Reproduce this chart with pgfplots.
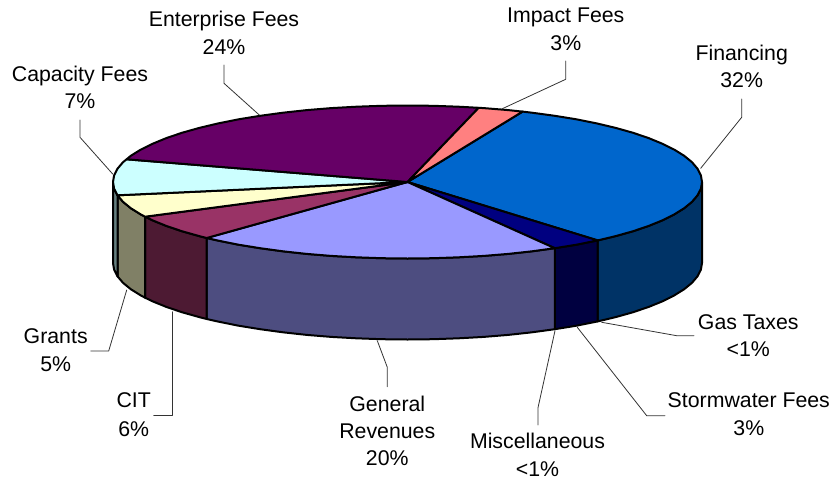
\documentclass[border=0pt]{standalone}
\usepackage{fontspec}
\setmainfont{Liberation Sans}
\usepackage{pgfplots}
\pgfplotsset{compat=1.18}
\definecolor{finT}{HTML}{0066CC}\definecolor{finS}{HTML}{003366}
\definecolor{stoT}{HTML}{000080}\definecolor{stoS}{HTML}{000040}
\definecolor{genT}{HTML}{9999FF}\definecolor{genS}{HTML}{4D4D80}
\definecolor{citT}{HTML}{993366}\definecolor{citS}{HTML}{4D1A33}
\definecolor{graT}{HTML}{FFFFCC}\definecolor{graS}{HTML}{808066}
\definecolor{capT}{HTML}{CCFFFF}\definecolor{capS}{HTML}{668080}
\definecolor{entT}{HTML}{660066}
\definecolor{impT}{HTML}{FF8080}
\newcommand{\lab}[3]{\node[anchor=base,inner sep=0pt,font=\fontsize{21.3}{27}\selectfont] at (axis cs:#1,#2) {#3};}
\begin{document}
\begin{tikzpicture}
\path[use as bounding box] (0,0) rectangle (836pt,483pt);
\begin{axis}[
  at={(0,0)},anchor=south west,
  width=836pt,height=483pt,scale only axis,
  xmin=0,xmax=836,ymin=0,ymax=483,y dir=reverse,
  hide axis,clip=false,
  every axis plot/.append style={line join=round,line cap=round},
  piece/.style={draw=black,line width=2pt,fill=#1},
  leader/.style={draw=black!80,line width=0.8pt,no marks},
]
% side walls
\addplot[piece=finS,no marks] coordinates {(702,182)(700.9,188.7)(697.5,195.3)(692,201.8)(684.2,208.2)(674.4,214.3)(662.5,220.3)(648.7,225.9)(633.1,231.2)(615.7,236.1)(597.7,240.4)(597.7,321.4)(615.7,317.1)(633.1,312.2)(648.7,306.9)(662.5,301.3)(674.4,295.3)(684.2,289.2)(692,282.8)(697.5,276.3)(700.9,269.7)(702,263)} --cycle;
\addplot[piece=stoS,no marks] coordinates {(597.7,240.4)(576.4,244.7)(554.8,248.2)(554.8,329.2)(576.4,325.7)(597.7,321.4)} --cycle;
\addplot[piece=genS,no marks] coordinates {(554.8,248.2)(532,251.3)(508.2,253.9)(483.7,255.9)(458.6,257.3)(433.2,258.2)(407.5,258.5)(381.8,258.2)(356.4,257.3)(331.3,255.9)(306.8,253.9)(283,251.3)(260.2,248.2)(238.6,244.7)(218.2,240.6)(206.7,238)(206.7,319)(218.2,321.6)(238.6,325.7)(260.2,329.2)(283,332.3)(306.8,334.9)(331.3,336.9)(356.4,338.3)(381.8,339.2)(407.5,339.5)(433.2,339.2)(458.6,338.3)(483.7,336.9)(508.2,334.9)(532,332.3)(554.8,329.2)} --cycle;
\addplot[piece=citS,no marks] coordinates {(206.7,238)(199.3,236.1)(181.9,231.2)(166.3,225.9)(152.5,220.3)(145.1,216.7)(145.1,297.7)(152.5,301.3)(166.3,306.9)(181.9,312.2)(199.3,317.1)(206.7,319)} --cycle;
\addplot[piece=graS,no marks] coordinates {(145.1,216.7)(140.6,214.3)(130.8,208.2)(123,201.8)(117.5,195.3)(117.5,276.3)(123,282.8)(130.8,289.2)(140.6,295.3)(145.1,297.7)} --cycle;
\addplot[piece=capS,no marks] coordinates {(117.5,195.3)(114.1,188.7)(113,182)(113,263)(114.1,269.7)(117.5,276.3)} --cycle;
% top slices
\addplot[piece=finT,no marks] coordinates {(407.5,182)(522.6,111.6)(532,112.7)(554.8,115.8)(576.4,119.3)(596.8,123.4)(615.7,127.9)(633.1,132.8)(648.7,138.1)(662.5,143.8)(674.4,149.7)(684.2,155.8)(692,162.2)(697.5,168.7)(700.9,175.3)(702,182)(700.9,188.7)(697.5,195.3)(692,201.8)(684.2,208.2)(674.4,214.3)(662.5,220.3)(648.7,225.9)(633.1,231.2)(615.7,236.1)(597.7,240.4)} --cycle;
\addplot[piece=stoT,no marks] coordinates {(407.5,182)(597.7,240.4)(576.4,244.7)(554.8,248.2)} --cycle;
\addplot[piece=genT,no marks] coordinates {(407.5,182)(554.8,248.2)(532,251.3)(508.2,253.9)(483.7,255.9)(458.6,257.3)(433.2,258.2)(407.5,258.5)(381.8,258.2)(356.4,257.3)(331.3,255.9)(306.8,253.9)(283,251.3)(260.2,248.2)(238.6,244.7)(218.2,240.6)(206.7,238)} --cycle;
\addplot[piece=citT,no marks] coordinates {(407.5,182)(206.7,238)(199.3,236.1)(181.9,231.2)(166.3,225.9)(152.5,220.3)(145.1,216.7)} --cycle;
\addplot[piece=graT,no marks] coordinates {(407.5,182)(145.1,216.7)(140.6,214.3)(130.8,208.2)(123,201.8)(117.5,195.3)} --cycle;
\addplot[piece=capT,no marks] coordinates {(407.5,182)(117.5,195.3)(114.1,188.7)(113,182)(114.1,175.3)(117.5,168.7)(123,162.2)(126.6,159.3)} --cycle;
\addplot[piece=entT,no marks] coordinates {(407.5,182)(126.6,159.3)(130.8,155.8)(140.6,149.7)(152.5,143.8)(166.3,138.1)(181.9,132.8)(199.3,127.9)(218.2,123.4)(238.6,119.3)(260.2,115.8)(283,112.7)(306.8,110.1)(331.3,108.1)(356.4,106.7)(381.8,105.8)(407.5,105.5)(433.2,105.8)(458.6,106.7)(478.7,107.8)} --cycle;
\addplot[piece=impT,no marks] coordinates {(407.5,182)(478.7,107.8)(483.7,108.1)(508.2,110.1)(522.6,111.6)} --cycle;
% leader lines
\addplot[leader] coordinates {(224,65)(224,83.3)(259.3,115)};
\addplot[leader] coordinates {(80,120)(80,137.3)(112.7,174)};
\addplot[leader] coordinates {(565.7,61)(565.7,79.3)(501.7,109)};
\addplot[leader] coordinates {(741.7,99)(741.7,117.3)(700.7,168.3)};
\addplot[leader] coordinates {(90.7,351)(108.7,351)(126.7,290)};
\addplot[leader] coordinates {(153.7,415.3)(172,415.3)(172,311.7)};
\addplot[leader] coordinates {(387.3,386.7)(387.3,367.3)(377.3,340.7)};
\addplot[leader] coordinates {(538,425)(538,407.7)(555,330.7)};
\addplot[leader] coordinates {(665,415.7)(646.7,415.7)(577.3,327.3)};
\addplot[leader] coordinates {(694,335.7)(676.7,335.7)(601.7,322.3)};
% labels
\lab{224}{26.7}{Enterprise Fees}
\lab{224}{54}{24\%}
\lab{565.8}{22.7}{Impact Fees}
\lab{565.8}{50}{3\%}
\lab{741.7}{60}{Financing}
\lab{741.7}{87.3}{32\%}
\lab{80}{81}{Capacity Fees}
\lab{80}{108.3}{7\%}
\lab{55.7}{343.3}{Grants}
\lab{55.7}{371}{5\%}
\lab{133.7}{407.7}{CIT}
\lab{133.7}{436}{6\%}
\lab{387.3}{411}{General}
\lab{387.3}{438}{Revenues}
\lab{387.3}{465}{20\%}
\lab{537.5}{448.3}{Miscellaneous}
\lab{537.5}{476}{<1\%}
\lab{748.3}{329.3}{Gas Taxes}
\lab{748.3}{356}{<1\%}
\lab{748.8}{407.3}{Stormwater Fees}
\lab{748.8}{435.7}{3\%}
\end{axis}
\end{tikzpicture}
\end{document}
